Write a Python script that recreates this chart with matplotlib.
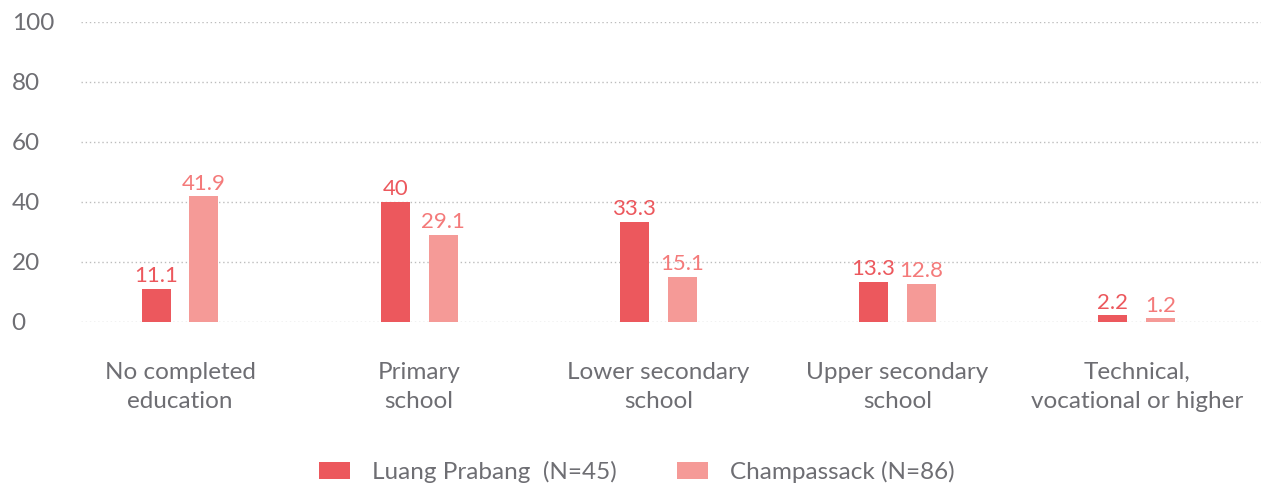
import numpy as np
import matplotlib.pyplot as plt

# education levels, % of respondents
categories = ['No completed\neducation', 'Primary\nschool', 'Lower secondary\nschool',
              'Upper secondary\nschool', 'Technical,\nvocational or higher']
luang = [11.1, 40, 33.3, 13.3, 2.2]
champ = [41.9, 29.1, 15.1, 12.8, 1.2]
series_names = ['Luang Prabang  (N=45)', 'Champassack (N=86)']
yticks = [0, 20, 40, 60, 80, 100]

dark = '#EC585D'
light = '#F59A97'
dark_txt = '#EC585D'
light_txt = '#F47A7A'
grey = '#6E6E73'

plt.rcParams['font.family'] = ['Lato', 'DejaVu Sans']

fig = plt.figure(figsize=(12.61, 4.83), dpi=100)
ax = fig.add_axes([81 / 1261, 1 - 322 / 483, 1 - 81 / 1261, 300 / 483])

x = np.arange(len(categories))
w = 0.121
off = 0.1
b1 = ax.bar(x - off, luang, w, color=dark, label=series_names[0], zorder=3)
b2 = ax.bar(x + off, champ, w, color=light, label=series_names[1], zorder=3)

for bars, vals, c in [(b1, luang, dark_txt), (b2, champ, light_txt)]:
    for r, v in zip(bars, vals):
        ax.annotate(f'{v:g}', (r.get_x() + r.get_width() / 2, v),
                    xytext=(0, 2), textcoords='offset points',
                    ha='center', va='bottom', fontsize=16, color=c)

ax.set_xlim(-0.414, 4.52)
ax.set_ylim(0, 100)
ax.set_yticks(yticks)
ax.set_xticks(x)
ax.set_xticklabels(categories, fontsize=17.5, color=grey, linespacing=1.45)
for t in ax.get_yticklabels():
    t.set_horizontalalignment('left')
    t.set_fontsize(17.5)
    t.set_color(grey)
ax.tick_params(axis='y', length=0, pad=50)
ax.tick_params(axis='x', length=0, pad=29)

ax.grid(axis='y', linestyle=(0, (1, 2)), color='#BDBDBD', linewidth=1, zorder=0)
for s in ax.spines.values():
    s.set_visible(False)

leg = fig.legend(loc='lower center', bbox_to_anchor=(0.505, -0.045), ncol=2,
                 frameon=False, fontsize=17.5, handlelength=1.28, handleheight=0.66,
                 columnspacing=2.5, handletextpad=0.9)
for t in leg.get_texts():
    t.set_color(grey)

fig.savefig('out.png', dpi=100)
